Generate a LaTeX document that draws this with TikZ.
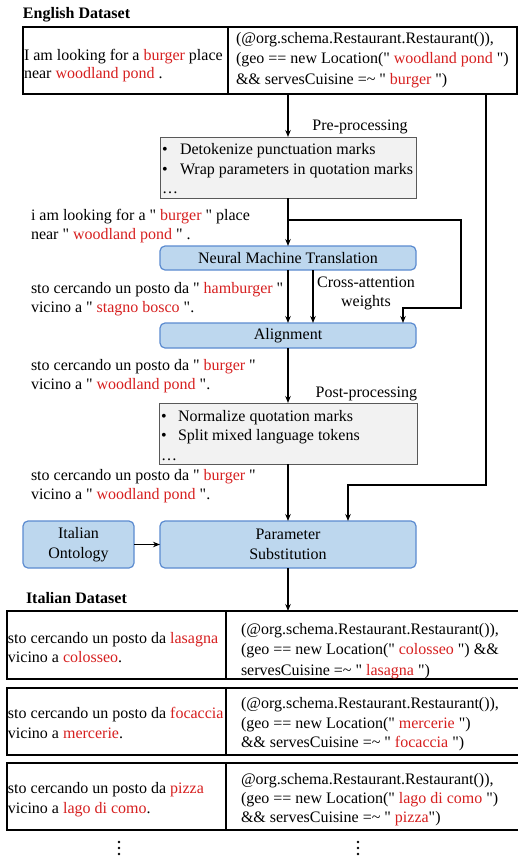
\documentclass[tikz,border=0pt]{standalone}
\usepackage{fontspec}
\setmainfont{Liberation Serif}[Ligatures=TeXOff]
\usetikzlibrary{arrows.meta}
\definecolor{hl}{HTML}{D61F1F}
\definecolor{bfill}{HTML}{BDD7EE}
\definecolor{bdraw}{HTML}{5B8BD0}
\definecolor{gfill}{HTML}{F2F2F2}
\definecolor{gdraw}{HTML}{595959}
\newcommand{\hr}[1]{\textcolor{hl}{#1}}
\newcommand{\qq}{\symbol{34}}
\begin{document}
\begin{tikzpicture}[x=1pt,y=-1pt,
  every node/.style={font=\fontsize{16}{19.5}\selectfont, inner sep=0pt, outer sep=0pt},
  txt/.style={anchor=base west},
  ctxt/.style={anchor=base},
  cell/.style={draw=black, line width=1.2pt, anchor=north west},
  bluebox/.style={draw=bdraw, fill=bfill, line width=1.2pt, rounded corners=5pt, anchor=north west, align=center},
  graybox/.style={draw=gdraw, fill=gfill, line width=1pt, anchor=north west},
  arr/.style={line width=1.8pt, -{Stealth[length=7pt,width=5.5pt]}}]
\useasboundingbox (0,0) rectangle (518,857);

% ---------- English dataset ----------
\node[txt, font=\fontsize{16}{19.5}\selectfont\bfseries] (enT) at (23,18) {English Dataset};
\node[cell, minimum width=205pt, minimum height=67pt] (enL) at (23,27) {};
\node[cell, minimum width=289pt, minimum height=67pt] (enR) at (228,27) {};
\node[txt] (enL1) at (24,60) {I am looking for a \hr{burger} place};
\node[txt] (enL2) at (24,78) {near \hr{woodland pond} .};
\node[txt] (enR1) at (236,43) {(@org.schema.Restaurant.Restaurant()),};
\node[txt] (enR2) at (236,63.5) {(geo == new Location(\qq{} \hr{woodland pond} \qq)};
\node[txt] (enR3) at (236,84) {\&\& servesCuisine =\textasciitilde{} \qq{} \hr{burger} \qq)};

% ---------- Pre-processing ----------
\node[ctxt] (preT) at (360,130) {Pre-processing};
\node[graybox, minimum width=256pt, minimum height=61pt] (pre) at (160,137) {};
\node[txt] (preB1) at (162,154) {\textbullet};
\node[txt] (pre1) at (180,154) {Detokenize punctuation marks};
\node[txt] (preB2) at (162,174) {\textbullet};
\node[txt] (pre2) at (180,174) {Wrap parameters in quotation marks};
\node[txt] (pre3) at (162,193) {\dots};

\node[txt] (s1a) at (31,220) {i am looking for a \qq{} \hr{burger} \qq{} place};
\node[txt] (s1b) at (31,239) {near \qq{} \hr{woodland pond} \qq{} .};

% ---------- NMT ----------
\node[bluebox, minimum width=256pt, minimum height=24pt] (nmt) at (160,246) {Neural Machine Translation};

\node[txt] (s2a) at (31,293) {sto cercando un posto da \qq{} \hr{hamburger} \qq};
\node[txt] (s2b) at (31,312) {vicino a \qq{} \hr{stagno bosco} \qq.};
\node[ctxt] (caT1) at (366,287) {Cross-attention};
\node[ctxt] (caT2) at (366,306) {weights};

% ---------- Alignment ----------
\node[bluebox, minimum width=256pt, minimum height=25pt] (al) at (160,323) {Alignment};

\node[txt] (s3a) at (31,370) {sto cercando un posto da \qq{} \hr{burger} \qq};
\node[txt] (s3b) at (31,389) {vicino a \qq{} \hr{woodland pond} \qq.};

% ---------- Post-processing ----------
\node[anchor=base east] (postT) at (417,397) {Post-processing};
\node[graybox, minimum width=258pt, minimum height=61pt] (post) at (159,403) {};
\node[txt] (postB1) at (161,421) {\textbullet};
\node[txt] (post1) at (178,421) {Normalize quotation marks};
\node[txt] (postB2) at (161,440) {\textbullet};
\node[txt] (post2) at (178,440) {Split mixed language tokens};
\node[txt] (post3) at (161,460) {\dots};

\node[txt] (s4a) at (31,480) {sto cercando un posto da \qq{} \hr{burger} \qq};
\node[txt] (s4b) at (31,499) {vicino a \qq{} \hr{woodland pond} \qq.};

% ---------- Parameter substitution ----------
\node[bluebox, minimum width=111pt, minimum height=47pt] (io) at (23,521) {Italian\\Ontology};
\node[bluebox, minimum width=256pt, minimum height=47pt] (ps) at (160,521) {Parameter\\Substitution};

% ---------- Italian dataset ----------
\node[txt, font=\fontsize{16}{19.5}\selectfont\bfseries] (itT) at (26,603) {Italian Dataset};

\node[cell, minimum width=219pt, minimum height=68pt] (t1L) at (7,611) {};
\node[cell, minimum width=300pt, minimum height=68pt] (t1R) at (226,611) {};
\node[txt] (t1L1) at (8,643) {sto cercando un posto da \hr{lasagna}};
\node[txt] (t1L2) at (8,662) {vicino a \hr{colosseo}.};
\node[txt] (t1R1) at (241,634) {(@org.schema.Restaurant.Restaurant()),};
\node[txt] (t1R2) at (241,654) {(geo == new Location(\qq{} \hr{colosseo} \qq) \&\&};
\node[txt] (t1R3) at (241,675) {servesCuisine =\textasciitilde{} \qq{} \hr{lasagna} \qq)};

\node[cell, minimum width=219pt, minimum height=67pt] (t2L) at (7,688) {};
\node[cell, minimum width=300pt, minimum height=67pt] (t2R) at (226,688) {};
\node[txt] (t2L1) at (8,718) {sto cercando un posto da \hr{focaccia}};
\node[txt] (t2L2) at (8,738) {vicino a \hr{mercerie}.};
\node[txt] (t2R1) at (241,708) {(@org.schema.Restaurant.Restaurant()),};
\node[txt] (t2R2) at (241,728) {(geo == new Location(\qq{} \hr{mercerie} \qq)};
\node[txt] (t2R3) at (241,747) {\&\& servesCuisine =\textasciitilde{} \qq{} \hr{focaccia} \qq)};

\node[cell, minimum width=219pt, minimum height=67pt] (t3L) at (7,763) {};
\node[cell, minimum width=300pt, minimum height=67pt] (t3R) at (226,763) {};
\node[txt] (t3L1) at (8,793) {sto cercando un posto da \hr{pizza}};
\node[txt] (t3L2) at (8,813) {vicino a \hr{lago di como}.};
\node[txt] (t3R1) at (241,784) {@org.schema.Restaurant.Restaurant()),};
\node[txt] (t3R2) at (241,803) {(geo == new Location(\qq{} \hr{lago di como} \qq)};
\node[txt] (t3R3) at (241,822) {\&\& servesCuisine =\textasciitilde{} \qq{} \hr{pizza}\qq)};

% vertical dots
\foreach \xx in {119,358}{
  \foreach \yy in {842,848,854}{
    \fill (\xx,\yy) circle (1.4pt);
  }
}

% ---------- connectors ----------
\coordinate (b1) at (288,220);
\coordinate (b2) at (461,308);
\coordinate (b3) at (403,308);
\coordinate (ca) at (313,300);
\coordinate (rx) at (486,100);
\coordinate (rb) at (348,485);

\draw[arr] (pre.north |- enR.south) -- (pre.north);
\draw[arr] (pre.south) -- (nmt.north);
\draw[arr] (b1) -| (b2) -| (al.north -| b3);
\draw[arr] (nmt.south) -- (al.north);
\draw[arr] (nmt.south -| ca) -- (al.north -| ca);
\draw[arr] (al.south) -- (post.north);
\draw[arr] (post.south) -- (ps.north);
\draw[arr] (enR.south -| rx) |- (rb) -- (ps.north -| rb);
\draw[arr] (io.east) -- (ps.west);
\draw[arr] (ps.south) -- (t1R.north -| ps.south);
\end{tikzpicture}
\end{document}
